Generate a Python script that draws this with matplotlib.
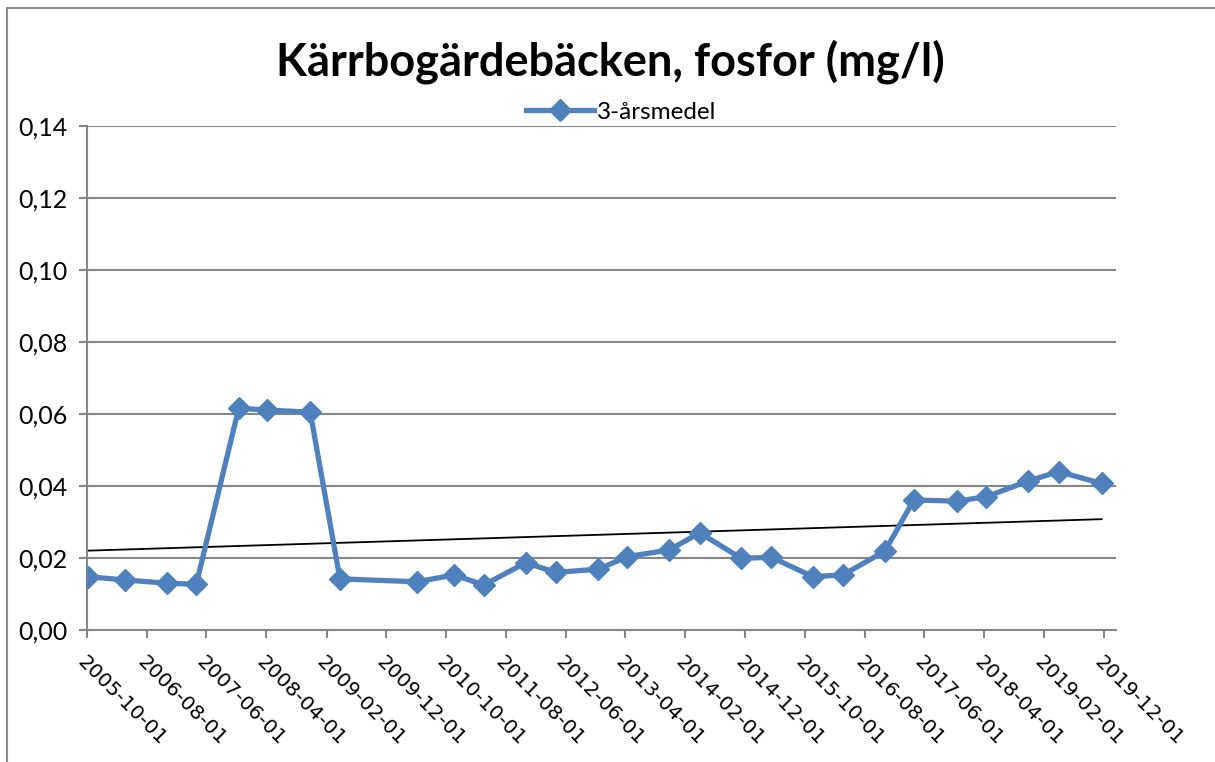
import numpy as np
import pandas as pd
import matplotlib
matplotlib.use('Agg')
import matplotlib.pyplot as plt
import matplotlib.dates as mdates
from matplotlib.lines import Line2D

# data
dates = ['2005-10-08', '2006-04-12', '2006-11-10', '2007-04-10', '2007-11-12',
         '2008-04-05', '2008-11-10', '2009-04-10', '2010-05-08', '2010-11-12',
         '2011-04-12', '2011-11-12', '2012-04-12', '2012-11-15', '2013-04-12',
         '2013-11-10', '2014-04-15', '2014-11-12', '2015-04-15', '2015-11-12',
         '2016-04-12', '2016-11-12', '2017-04-08', '2017-11-12', '2018-04-12',
         '2018-11-12', '2019-04-15', '2019-11-20']
values = [0.0148, 0.0139, 0.0130, 0.0127, 0.0616, 0.0611, 0.0605, 0.0142,
          0.0134, 0.0153, 0.0125, 0.0187, 0.0160, 0.0169, 0.0204, 0.0222,
          0.0270, 0.0199, 0.0202, 0.0148, 0.0153, 0.0219, 0.0361, 0.0358,
          0.0370, 0.0414, 0.0440, 0.0407]
series_name = '3-årsmedel'
title = 'Kärrbogärdebäcken, fosfor (mg/l)'
yticks = [0.0, 0.02, 0.04, 0.06, 0.08, 0.10, 0.12, 0.14]

blue = '#4F81BD'
grid_col = '#868686'

x = pd.to_datetime(dates)
xnum = mdates.date2num(x)

fig = plt.figure(figsize=(12.15, 7.62), dpi=100)
ax = fig.add_axes([87 / 1215, 1 - 630 / 762, (1116 - 87) / 1215, (630 - 126) / 762])

# chart border (top and left visible)
fig.add_artist(Line2D([7 / 1215, 1.0], [1 - 8 / 762, 1 - 8 / 762], color='#8c8c8c', lw=1.5))
fig.add_artist(Line2D([7 / 1215, 7 / 1215], [0, 1 - 8 / 762], color='#8c8c8c', lw=1.5))

ax.plot(xnum, values, color=blue, lw=3.8, marker='D', ms=11, mec=blue, mfc=blue,
        zorder=3, label=series_name)

# linear trend
k, m = np.polyfit(xnum, values, 1)
ax.plot([xnum[0], xnum[-1]], [k * xnum[0] + m, k * xnum[-1] + m], color='black', lw=1.3, zorder=2)

ax.set_ylim(0, 0.14)
ax.set_yticks(yticks)
ax.set_yticklabels([('%.2f' % v).replace('.', ',') for v in yticks], fontname='Lato', fontsize=18)
for v in yticks[1:]:
    ax.axhline(v, color=grid_col, lw=1.5, zorder=1)

xt = pd.date_range('2005-10-01', '2019-12-01', freq='10MS')
ax.set_xticks(mdates.date2num(xt))
ax.set_xticklabels([d.strftime('%Y-%m-%d') for d in xt], rotation=-45, ha='left', va='top',
                   rotation_mode='anchor', fontsize=14.5)
ax.set_xlim(mdates.date2num(pd.Timestamp('2005-10-01')), mdates.date2num(pd.Timestamp('2020-02-01')))

for s in ['top', 'right']:
    ax.spines[s].set_visible(False)
ax.spines['left'].set_color(grid_col)
ax.spines['bottom'].set_color(grid_col)
ax.spines['left'].set_linewidth(1.5)
ax.spines['bottom'].set_linewidth(1.5)
ax.tick_params(axis='both', colors=grid_col, width=1.5, length=6, labelcolor='black')
ax.tick_params(axis='x', pad=10)
ax.tick_params(axis='y', pad=8)

fig.text(610 / 1215, 1 - 62 / 762, title, ha='center', va='center', fontname='Lato',
         fontweight='bold', fontsize=32.5)
ax.legend(loc='center', bbox_to_anchor=(621 / 1215, 1 - 112 / 762), bbox_transform=fig.transFigure,
          frameon=False, prop={'family': 'Lato', 'size': 17.5}, handlelength=2.8, handletextpad=0.1)

fig.savefig('out.png', dpi=100)
